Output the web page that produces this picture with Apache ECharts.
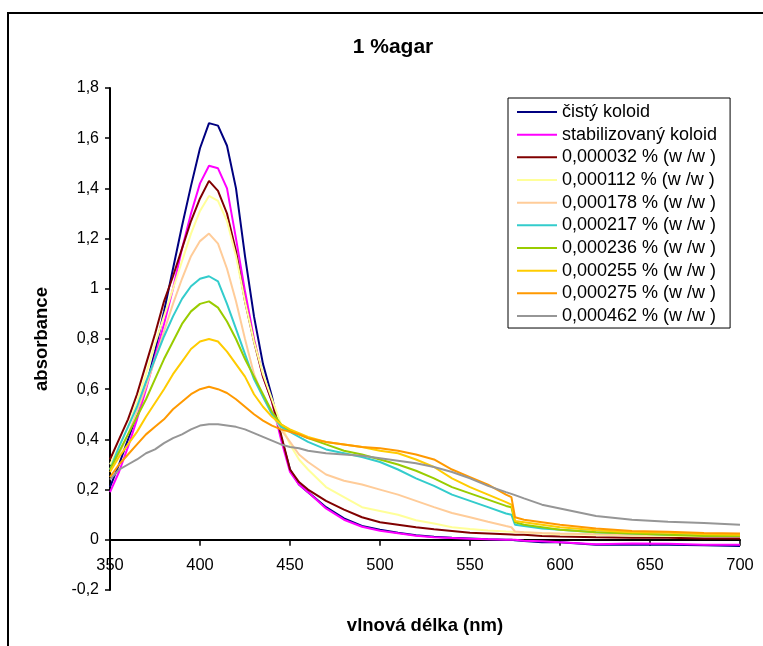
<!DOCTYPE html>
<html>
<head>
<meta charset="utf-8">
<script src="https://cdn.jsdelivr.net/npm/echarts@6/dist/echarts.min.js"></script>
<style>
  html, body { margin: 0; padding: 0; background: #ffffff; }
  #chart { width: 763px; height: 646px; }
</style>
</head>
<body>
<div id="chart"></div>
<script>
// Wavelength grid (nm) shared by every spectrum
const wavelengths = [350,355,360,365,370,375,380,385,390,395,400,405,410,415,420,425,430,435,440,445,450,455,460,470,480,490,500,510,520,530,540,550,560,570,573,575,580,590,600,620,640,660,680,700];

// Absorbance spectra
const cistyKoloid = [0.21,0.30,0.40,0.50,0.61,0.75,0.91,1.08,1.25,1.41,1.56,1.66,1.65,1.57,1.40,1.13,0.89,0.70,0.57,0.41,0.28,0.22,0.19,0.13,0.085,0.055,0.04,0.028,0.018,0.012,0.008,0.005,0.002,0.0,0.0,-0.002,-0.005,-0.01,-0.01,-0.02,-0.02,-0.02,-0.022,-0.025];
const stabilizovanyKoloid = [0.19,0.27,0.37,0.48,0.60,0.73,0.86,1.00,1.16,1.30,1.42,1.49,1.48,1.40,1.20,0.99,0.80,0.65,0.55,0.40,0.27,0.22,0.19,0.125,0.08,0.052,0.036,0.026,0.016,0.01,0.007,0.004,0.002,0.0,0.0,0.0,-0.004,-0.006,-0.01,-0.018,-0.015,-0.016,-0.02,-0.02];
const c000032 = [0.32,0.40,0.48,0.58,0.70,0.82,0.95,1.05,1.16,1.27,1.36,1.43,1.39,1.30,1.15,0.95,0.79,0.65,0.55,0.42,0.28,0.23,0.20,0.155,0.12,0.09,0.07,0.06,0.05,0.042,0.035,0.028,0.025,0.022,0.021,0.02,0.02,0.015,0.013,0.01,0.008,0.008,0.005,0.005];
const c000112 = [0.30,0.37,0.45,0.55,0.66,0.78,0.89,1.00,1.11,1.22,1.31,1.37,1.35,1.27,1.13,0.95,0.79,0.66,0.56,0.46,0.38,0.32,0.28,0.21,0.17,0.13,0.115,0.10,0.078,0.065,0.05,0.043,0.037,0.033,0.032,0.03,0.03,0.025,0.022,0.02,0.017,0.015,0.015,0.015];
const c000178 = [0.28,0.34,0.42,0.51,0.61,0.72,0.83,0.94,1.04,1.13,1.19,1.22,1.18,1.08,0.95,0.80,0.66,0.57,0.50,0.44,0.39,0.34,0.31,0.26,0.235,0.22,0.20,0.18,0.155,0.13,0.107,0.09,0.072,0.055,0.05,0.033,0.03,0.027,0.025,0.022,0.02,0.02,0.02,0.02];
const c000217 = [0.28,0.37,0.45,0.53,0.63,0.72,0.81,0.89,0.96,1.01,1.04,1.05,1.03,0.94,0.84,0.74,0.64,0.57,0.50,0.45,0.43,0.41,0.39,0.36,0.345,0.33,0.31,0.28,0.245,0.215,0.18,0.155,0.13,0.105,0.10,0.06,0.055,0.045,0.04,0.03,0.025,0.02,0.02,0.02];
const c000236 = [0.28,0.35,0.42,0.49,0.56,0.64,0.72,0.79,0.86,0.91,0.94,0.95,0.925,0.87,0.80,0.72,0.65,0.58,0.51,0.46,0.435,0.42,0.405,0.38,0.355,0.34,0.32,0.30,0.275,0.245,0.21,0.185,0.16,0.135,0.13,0.07,0.06,0.05,0.04,0.03,0.025,0.02,0.015,0.015];
const c000255 = [0.27,0.33,0.38,0.43,0.49,0.545,0.60,0.66,0.71,0.76,0.79,0.80,0.79,0.75,0.70,0.65,0.58,0.53,0.49,0.46,0.44,0.425,0.41,0.39,0.38,0.37,0.355,0.345,0.32,0.29,0.245,0.21,0.18,0.15,0.14,0.075,0.07,0.06,0.05,0.038,0.03,0.028,0.022,0.02];
const c000275 = [0.25,0.30,0.34,0.38,0.42,0.45,0.48,0.52,0.55,0.58,0.60,0.61,0.60,0.585,0.56,0.53,0.50,0.475,0.455,0.44,0.43,0.42,0.405,0.39,0.38,0.37,0.365,0.355,0.34,0.32,0.28,0.25,0.22,0.18,0.17,0.09,0.08,0.07,0.06,0.045,0.035,0.032,0.027,0.025];
const c000462 = [0.24,0.28,0.30,0.32,0.345,0.36,0.385,0.405,0.42,0.44,0.455,0.46,0.46,0.455,0.45,0.44,0.425,0.41,0.395,0.38,0.37,0.365,0.355,0.345,0.34,0.335,0.325,0.315,0.305,0.29,0.27,0.245,0.215,0.19,0.183,0.178,0.165,0.14,0.125,0.095,0.08,0.072,0.067,0.06];

const seriesNames = ['čistý koloid','stabilizovaný koloid','0,000032 % (w /w )','0,000112 % (w /w )','0,000178 % (w /w )','0,000217 % (w /w )','0,000236 % (w /w )','0,000255 % (w /w )','0,000275 % (w /w )','0,000462 % (w /w )'];
const seriesValues = [cistyKoloid, stabilizovanyKoloid, c000032, c000112, c000178, c000217, c000236, c000255, c000275, c000462];
const seriesColors = ['#000080','#FF00FF','#800000','#FFFF99','#FFCC99','#33CCCC','#99CC00','#FFCC00','#FF9900','#969696'];

// Axis ticks
const yMin = -0.2, yMax = 1.8, yStep = 0.2;
const xMin = 350, xMax = 700, xStep = 50;

const FONT = '"Liberation Sans", Arial, sans-serif';

// Plot box in pixels; the wavelength axis sits on the zero line
const GRID = { left: 110, right: 23, top: 88, bottom: 56 };
const plotHeight = 646 - GRID.top - GRID.bottom;
const zeroLineOffset = -plotHeight * (0 - yMin) / (yMax - yMin);

const chart = echarts.init(document.getElementById('chart'), null, { renderer: 'canvas' });

const series = seriesNames.map((name, i) => ({
  name: name,
  type: 'line',
  data: wavelengths.map((w, j) => [w, seriesValues[i][j]]),
  showSymbol: false,
  symbol: 'none',
  lineStyle: { color: seriesColors[i], width: 2 },
  itemStyle: { color: seriesColors[i] },
  animation: false
}));

chart.setOption({
  backgroundColor: '#ffffff',
  animation: false,
  title: {
    text: '1 %agar',
    left: 388,
    top: 32,
    textAlign: 'center',
    textStyle: { fontFamily: FONT, fontSize: 21, fontWeight: 'bold', color: '#000' }
  },
  graphic: [{
    type: 'rect',
    shape: { x: 8, y: 13, width: 780, height: 660 },
    style: { fill: 'none', stroke: '#000', lineWidth: 2 },
    silent: true
  }],
  legend: {
    orient: 'vertical',
    left: 508,
    top: 98,
    padding: [5, 13, 3, 9],
    itemWidth: 40,
    itemHeight: 2,
    itemGap: 4.67,
    icon: 'rect',
    backgroundColor: '#ffffff',
    borderColor: '#000',
    borderWidth: 1,
    textStyle: { fontFamily: FONT, fontSize: 18, color: '#000', lineHeight: 18, padding: [0, 0, 0, 0] },
    data: seriesNames
  },
  grid: Object.assign({ containLabel: false, outerBoundsMode: 'none' }, GRID),
  xAxis: {
    type: 'value',
    min: xMin, max: xMax, interval: xStep,
    offset: zeroLineOffset,
    name: 'vlnová délka (nm)',
    nameLocation: 'middle',
    nameGap: 77,
    nameMoveOverlap: false,
    nameTextStyle: { fontFamily: FONT, fontSize: 18.5, fontWeight: 'bold', color: '#000' },
    axisLine: { onZero: false, lineStyle: { color: '#000', width: 2 } },
    axisTick: { show: true, inside: false, length: 6, lineStyle: { color: '#000', width: 1.5 } },
    axisLabel: { fontFamily: FONT, fontSize: 16.5, color: '#000', margin: 17 },
    splitLine: { show: false }
  },
  yAxis: {
    type: 'value',
    min: yMin, max: yMax, interval: yStep,
    name: 'absorbance',
    nameLocation: 'middle',
    nameGap: 59,
    nameRotate: 90,
    nameMoveOverlap: false,
    nameTextStyle: { fontFamily: FONT, fontSize: 18.5, fontWeight: 'bold', color: '#000' },
    axisLine: { onZero: false, lineStyle: { color: '#000', width: 2 } },
    axisTick: { show: true, inside: false, length: 5, lineStyle: { color: '#000', width: 1.5 } },
    axisLabel: {
      fontFamily: FONT, fontSize: 16, color: '#000', margin: 11,
      formatter: v => String(Number(v.toFixed(1))).replace('.', ',')
    },
    splitLine: { show: false }
  },
  series: series
});
</script>
</body>
</html>
